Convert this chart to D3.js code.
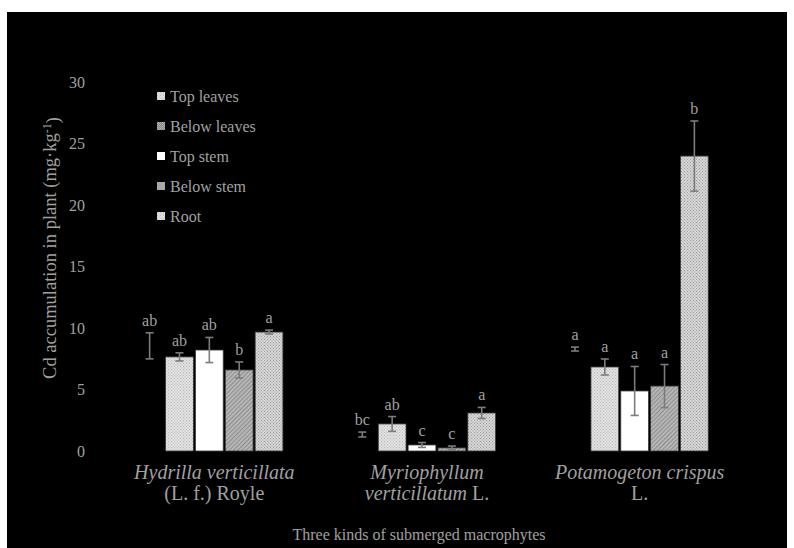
<!DOCTYPE html>
<html>
<head>
<meta charset="utf-8">
<script src="https://cdn.jsdelivr.net/npm/d3@7"></script>
<style>
  html, body { margin: 0; padding: 0; background: #ffffff; }
  svg { display: block; }
  text { font-family: "Liberation Serif", "Times New Roman", serif; }
</style>
</head>
<body>
<svg id="chart" width="794" height="548"></svg>
<script>
// ---------- data ----------
const categories = ["Hydrilla", "Myriophyllum", "Potamogeton"];
const seriesNames = ["Top leaves", "Below leaves", "Top stem", "Below stem", "Root"];
// mean values per series, in category order
const topLeaves   = [8.55, 1.34, 8.29];
const belowLeaves = [7.65, 2.20, 6.83];
const topStem     = [8.21, 0.49, 4.88];
const belowStem   = [6.59, 0.25, 5.28];
const root        = [9.67, 3.09, 23.98];
// standard errors
const errTopLeaves   = [1.06, 0.20, 0.16];
const errBelowLeaves = [0.33, 0.60, 0.65];
const errTopStem     = [1.02, 0.20, 1.99];
const errBelowStem   = [0.65, 0.15, 1.75];
const errRoot        = [0.16, 0.45, 2.85];
// significance letters
const letTopLeaves   = ["ab", "bc", "a"];
const letBelowLeaves = ["ab", "ab", "a"];
const letTopStem     = ["ab", "c", "a"];
const letBelowStem   = ["b", "c", "a"];
const letRoot        = ["a", "a", "b"];
const yTicks = [0, 5, 10, 15, 20, 25, 30];
const yTitle = "Cd accumulation in plant (mg·kg";
const xTitle = "Three kinds of submerged macrophytes";

const values  = [topLeaves, belowLeaves, topStem, belowStem, root];
const errors  = [errTopLeaves, errBelowLeaves, errTopStem, errBelowStem, errRoot];
const letters = [letTopLeaves, letBelowLeaves, letTopStem, letBelowStem, letRoot];

// ---------- styles ----------
const barFills    = ["#000000", "url(#pDotLight)", "#ffffff", "url(#pHatch)", "url(#pDotRoot)"];
const legendFills = ["url(#pDotLight)", "url(#pCheck)", "#ffffff", "#a8a8a8", "url(#pDotLight)"];
const textColor = "#a0a0a0";
const errColor = "#7c7c7c";

const svg = d3.select("#chart");
// outer frame: black panel
svg.append("rect").attr("x", 7).attr("y", 12).attr("width", 780).attr("height", 536).attr("fill", "#000");

// patterns
const defs = svg.append("defs");
function dotPattern(id, bg, dot, size) {
  const p = defs.append("pattern").attr("id", id).attr("patternUnits", "userSpaceOnUse")
    .attr("width", size).attr("height", size);
  p.append("rect").attr("width", size).attr("height", size).attr("fill", bg);
  p.append("rect").attr("x", 0).attr("y", 0).attr("width", 1).attr("height", 1).attr("fill", dot);
  p.append("rect").attr("x", size / 2).attr("y", size / 2).attr("width", 1).attr("height", 1).attr("fill", dot);
}
dotPattern("pDotLight", "#e2e2e2", "#b8b8b8", 3);
dotPattern("pDotRoot", "#d6d6d6", "#9c9c9c", 3);
dotPattern("pCheck", "#b0b0b0", "#888888", 2);
const hatch = defs.append("pattern").attr("id", "pHatch").attr("patternUnits", "userSpaceOnUse")
  .attr("width", 3).attr("height", 3).attr("patternTransform", "rotate(45)");
hatch.append("rect").attr("width", 3).attr("height", 3).attr("fill", "#b6b6b6");
hatch.append("rect").attr("width", 1).attr("height", 3).attr("fill", "#8e8e8e");

// ---------- scales ----------
const x0 = d3.scaleBand().domain(categories).range([103, 741]).paddingInner(0.308).paddingOuter(0.154);
const x1 = d3.scaleBand().domain(seriesNames).range([0, x0.bandwidth()]).paddingInner(0.07);
const y = d3.scaleLinear().domain([0, 30]).range([451, 82]);

// y axis (labels only)
const yAxis = svg.append("g").attr("transform", "translate(88,0)")
  .call(d3.axisLeft(y).tickValues(yTicks).tickSize(0).tickPadding(3));
yAxis.select(".domain").remove();
yAxis.selectAll("text").attr("fill", textColor).style("font-size", "16px")
  .style("font-family", '"Liberation Serif", "Times New Roman", serif');

// bars
const rows = [];
seriesNames.forEach((s, si) => categories.forEach((c, ci) => {
  rows.push({ s, si, c, v: values[si][ci], e: errors[si][ci], l: letters[si][ci] });
}));
const g = svg.append("g");
g.selectAll("rect.bar").data(rows).join("rect").attr("class", "bar")
  .attr("x", d => x0(d.c) + x1(d.s))
  .attr("y", d => y(d.v))
  .attr("width", x1.bandwidth())
  .attr("height", d => y(0) - y(d.v))
  .attr("fill", d => barFills[d.si])
  .attr("stroke", d => d.si === 0 ? "none" : "#3a3a3a")
  .attr("stroke-width", 0.8);

// error bars
const cap = 4;
const eb = g.selectAll("g.err").data(rows).join("g").attr("class", "err")
  .attr("stroke", errColor).attr("stroke-width", 1.6);
const cxOf = d => x0(d.c) + x1(d.s) + x1.bandwidth() / 2;
eb.append("line")
  .attr("x1", cxOf).attr("x2", cxOf)
  .attr("y1", d => y(d.v + d.e)).attr("y2", d => y(Math.max(0, d.v - d.e)));
eb.append("line")
  .attr("x1", d => cxOf(d) - cap).attr("x2", d => cxOf(d) + cap)
  .attr("y1", d => y(d.v + d.e)).attr("y2", d => y(d.v + d.e));
eb.append("line")
  .attr("x1", d => cxOf(d) - cap).attr("x2", d => cxOf(d) + cap)
  .attr("y1", d => y(Math.max(0, d.v - d.e))).attr("y2", d => y(Math.max(0, d.v - d.e)));

// letters
g.selectAll("text.lab").data(rows).join("text").attr("class", "lab")
  .attr("x", cxOf)
  .attr("y", d => y(d.v + d.e) - 7)
  .attr("text-anchor", "middle").attr("fill", textColor).style("font-size", "16px")
  .text(d => d.l);

// category labels (two lines, mixed italic)
const catLines = [
  [[["Hydrilla verticillata", true]], [["(L. f.) Royle", false]]],
  [[["Myriophyllum", true]], [["verticillatum", true], [" L.", false]]],
  [[["Potamogeton crispus", true]], [["L.", false]]]
];
categories.forEach((c, ci) => {
  const cx = x0(c) + x0.bandwidth() / 2 + 5;
  catLines[ci].forEach((line, li) => {
    const t = svg.append("text").attr("x", cx).attr("y", 479 + li * 21)
      .attr("text-anchor", "middle").attr("fill", textColor).style("font-size", "20px")
      .attr("xml:space", "preserve");
    line.forEach(([str, it]) => t.append("tspan").style("font-style", it ? "italic" : "normal").text(str));
  });
});

// axis titles
svg.append("text").attr("x", 419).attr("y", 540).attr("text-anchor", "middle")
  .attr("fill", textColor).style("font-size", "16px").text(xTitle);
const yt = svg.append("text").attr("transform", "translate(56,248) rotate(-90)")
  .attr("text-anchor", "middle").attr("fill", textColor).style("font-size", "18.5px");
yt.append("tspan").text(yTitle);
yt.append("tspan").attr("dy", "-0.45em").style("font-size", "12px").text("-1");
yt.append("tspan").attr("dy", "0.45em").text(")");

// legend
const lg = svg.append("g").selectAll("g").data(seriesNames).join("g")
  .attr("transform", (d, i) => `translate(157,${92 + i * 30})`);
lg.append("rect").attr("width", 8).attr("height", 8).attr("fill", (d, i) => legendFills[i]);
lg.append("text").attr("x", 13).attr("y", 10).attr("fill", textColor).style("font-size", "16px").text(d => d);
</script>
</body>
</html>
